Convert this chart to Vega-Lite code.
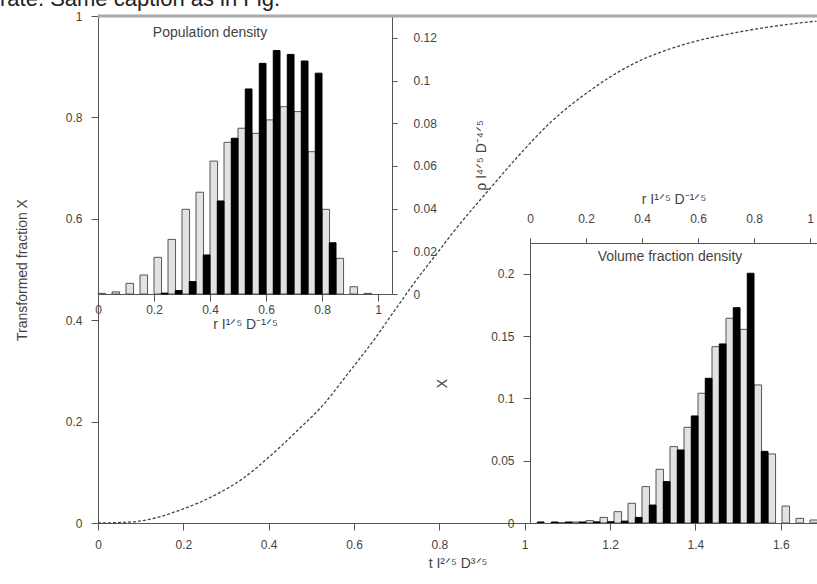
{
  "$schema": "https://vega.github.io/schema/vega-lite/v6.json",
  "width": 719,
  "height": 507,
  "autosize": {"type": "none"},
  "padding": {"left": 98, "top": 16, "right": 0, "bottom": 61},
  "config": {
    "view": {"stroke": null},
    "font": "Liberation Sans",
    "axis": {"labelFont": "Liberation Sans", "titleFont": "Liberation Sans", "labelColor": "#444", "titleColor": "#444", "domainColor": "#555", "tickColor": "#555", "grid": false, "titleFontWeight": "normal", "labelFontSize": 12, "titleFontSize": 14, "labelFlush": false, "labelOverlap": false}
  },
  "datasets": {
    "curve": [
      {"t": 0, "X": 0}, {"t": 0.05, "X": 0.001}, {"t": 0.10, "X": 0.004}, {"t": 0.194, "X": 0.026},
      {"t": 0.274, "X": 0.055}, {"t": 0.335, "X": 0.085}, {"t": 0.398, "X": 0.128}, {"t": 0.468, "X": 0.183},
      {"t": 0.532, "X": 0.237}, {"t": 0.574, "X": 0.282}, {"t": 0.65, "X": 0.365}, {"t": 0.70, "X": 0.425},
      {"t": 0.738, "X": 0.47}, {"t": 0.80, "X": 0.538}, {"t": 0.831, "X": 0.572}, {"t": 0.918, "X": 0.659},
      {"t": 0.981, "X": 0.72}, {"t": 1.059, "X": 0.789}, {"t": 1.145, "X": 0.848}, {"t": 1.253, "X": 0.905},
      {"t": 1.370, "X": 0.943}, {"t": 1.487, "X": 0.966}, {"t": 1.604, "X": 0.982}, {"t": 1.684, "X": 0.99}
    ],
    "pop": [
      {"s": "w", "lo": 0.000, "hi": 0.027, "v": 0.0003}, {"s": "w", "lo": 0.050, "hi": 0.077, "v": 0.001},
      {"s": "w", "lo": 0.100, "hi": 0.127, "v": 0.005}, {"s": "w", "lo": 0.150, "hi": 0.177, "v": 0.0089},
      {"s": "w", "lo": 0.200, "hi": 0.227, "v": 0.0172}, {"s": "w", "lo": 0.250, "hi": 0.277, "v": 0.0256},
      {"s": "w", "lo": 0.300, "hi": 0.327, "v": 0.0397}, {"s": "w", "lo": 0.350, "hi": 0.377, "v": 0.0477},
      {"s": "w", "lo": 0.400, "hi": 0.427, "v": 0.0623}, {"s": "w", "lo": 0.450, "hi": 0.477, "v": 0.0711},
      {"s": "w", "lo": 0.500, "hi": 0.527, "v": 0.0777}, {"s": "w", "lo": 0.550, "hi": 0.577, "v": 0.0753},
      {"s": "w", "lo": 0.600, "hi": 0.627, "v": 0.0816}, {"s": "w", "lo": 0.650, "hi": 0.677, "v": 0.0878},
      {"s": "w", "lo": 0.700, "hi": 0.727, "v": 0.0855}, {"s": "w", "lo": 0.750, "hi": 0.777, "v": 0.0667},
      {"s": "w", "lo": 0.800, "hi": 0.827, "v": 0.0397}, {"s": "w", "lo": 0.850, "hi": 0.877, "v": 0.0167},
      {"s": "w", "lo": 0.900, "hi": 0.927, "v": 0.0034}, {"s": "w", "lo": 0.950, "hi": 0.977, "v": 0.0003},
      {"s": "b", "lo": 0.226, "hi": 0.250, "v": 0.0004}, {"s": "b", "lo": 0.276, "hi": 0.300, "v": 0.0016},
      {"s": "b", "lo": 0.326, "hi": 0.350, "v": 0.0058}, {"s": "b", "lo": 0.376, "hi": 0.400, "v": 0.0183},
      {"s": "b", "lo": 0.426, "hi": 0.450, "v": 0.0436}, {"s": "b", "lo": 0.476, "hi": 0.500, "v": 0.073},
      {"s": "b", "lo": 0.526, "hi": 0.550, "v": 0.0961}, {"s": "b", "lo": 0.576, "hi": 0.600, "v": 0.1081},
      {"s": "b", "lo": 0.626, "hi": 0.650, "v": 0.1141}, {"s": "b", "lo": 0.676, "hi": 0.700, "v": 0.1123},
      {"s": "b", "lo": 0.726, "hi": 0.750, "v": 0.1092}, {"s": "b", "lo": 0.776, "hi": 0.800, "v": 0.1035},
      {"s": "b", "lo": 0.826, "hi": 0.850, "v": 0.024}
    ],
    "vol": [
      {"s": "w", "lo": 0.100, "hi": 0.127, "v": 0.0003}, {"s": "w", "lo": 0.150, "hi": 0.177, "v": 0.0008},
      {"s": "w", "lo": 0.200, "hi": 0.227, "v": 0.0019}, {"s": "w", "lo": 0.250, "hi": 0.277, "v": 0.0045},
      {"s": "w", "lo": 0.300, "hi": 0.327, "v": 0.0091}, {"s": "w", "lo": 0.350, "hi": 0.377, "v": 0.0158},
      {"s": "w", "lo": 0.400, "hi": 0.427, "v": 0.0292}, {"s": "w", "lo": 0.450, "hi": 0.477, "v": 0.0431},
      {"s": "w", "lo": 0.500, "hi": 0.527, "v": 0.0613}, {"s": "w", "lo": 0.550, "hi": 0.577, "v": 0.0768},
      {"s": "w", "lo": 0.600, "hi": 0.627, "v": 0.1041}, {"s": "w", "lo": 0.650, "hi": 0.677, "v": 0.1415},
      {"s": "w", "lo": 0.700, "hi": 0.727, "v": 0.1643}, {"s": "w", "lo": 0.750, "hi": 0.777, "v": 0.1554},
      {"s": "w", "lo": 0.800, "hi": 0.827, "v": 0.1108}, {"s": "w", "lo": 0.850, "hi": 0.877, "v": 0.0554},
      {"s": "w", "lo": 0.900, "hi": 0.927, "v": 0.0136}, {"s": "w", "lo": 0.950, "hi": 0.977, "v": 0.0037},
      {"s": "w", "lo": 1.000, "hi": 1.027, "v": 0.0024},
      {"s": "b", "lo": 0.026, "hi": 0.050, "v": 0.0008}, {"s": "b", "lo": 0.076, "hi": 0.100, "v": 0.0008},
      {"s": "b", "lo": 0.126, "hi": 0.150, "v": 0.0008}, {"s": "b", "lo": 0.176, "hi": 0.200, "v": 0.0008},
      {"s": "b", "lo": 0.226, "hi": 0.250, "v": 0.0009}, {"s": "b", "lo": 0.276, "hi": 0.300, "v": 0.001},
      {"s": "b", "lo": 0.326, "hi": 0.350, "v": 0.0015}, {"s": "b", "lo": 0.376, "hi": 0.400, "v": 0.0045},
      {"s": "b", "lo": 0.426, "hi": 0.450, "v": 0.0144}, {"s": "b", "lo": 0.476, "hi": 0.500, "v": 0.0332},
      {"s": "b", "lo": 0.526, "hi": 0.550, "v": 0.0586}, {"s": "b", "lo": 0.576, "hi": 0.600, "v": 0.0859},
      {"s": "b", "lo": 0.626, "hi": 0.650, "v": 0.1161}, {"s": "b", "lo": 0.676, "hi": 0.700, "v": 0.1437},
      {"s": "b", "lo": 0.726, "hi": 0.750, "v": 0.1728}, {"s": "b", "lo": 0.776, "hi": 0.800, "v": 0.2004},
      {"s": "b", "lo": 0.826, "hi": 0.850, "v": 0.0575}
    ],
    "popTitle": [{"lo": 0.4, "v": 0.1224, "label": "Population density"}],
    "volTitle": [{"lo": 0.5, "v": 0.2135, "label": "Volume fraction density"}],
    "top": [{"X": 1}],
    "caption": [{"t": 0, "X": 1.0195, "cap": "rate. Same caption as in Fig."}]
  },
  "layer": [
    {
      "layer": [
        {
          "data": {"name": "top"},
          "mark": {"type": "rule", "stroke": "#aaaaaa", "strokeWidth": 3},
          "encoding": {"y": {"field": "X", "type": "quantitative"}}
        },
        {
          "data": {"name": "curve"},
          "mark": {"type": "line", "stroke": "#444", "strokeDash": [3, 2], "strokeWidth": 1.3, "interpolate": "monotone"},
          "encoding": {
            "x": {"field": "t", "type": "quantitative", "scale": {"domain": [0, 1.685], "range": [0, 719], "nice": false, "zero": false},
                  "axis": {"orient": "bottom", "values": [0, 0.2, 0.4, 0.6, 0.8, 1, 1.2, 1.4, 1.6], "format": "~g", "title": "t I²ᐟ⁵ D³ᐟ⁵", "tickSize": 7, "labelPadding": 9, "titlePadding": 6}},
            "y": {"field": "X", "type": "quantitative"}
          }
        },
        {
          "data": {"name": "caption"},
          "mark": {"type": "text", "align": "left", "baseline": "alphabetic", "fontSize": 22, "dx": -98, "color": "#222", "font": "Liberation Sans"},
          "encoding": {
            "x": {"field": "t", "type": "quantitative"},
            "y": {"field": "X", "type": "quantitative"},
            "text": {"field": "cap"}
          }
        }
      ],
      "encoding": {
        "y": {"field": "X", "type": "quantitative", "scale": {"domain": [0, 1], "range": [507, 0], "nice": false},
              "axis": {"orient": "left", "values": [0, 0.2, 0.4, 0.6, 0.8, 1], "format": "~g", "title": "Transformed fraction X", "tickSize": 7, "labelPadding": 9, "titlePadding": 36}}
      }
    },
    {
      "layer": [
        {
          "data": {"name": "pop"},
          "mark": {"type": "bar", "strokeWidth": 1},
          "encoding": {
            "x2": {"field": "hi"},
            "y2": {"datum": 0},
            "fill": {"field": "s", "type": "nominal", "scale": {"domain": ["w", "b"], "range": ["#e2e2e2", "#000000"]}, "legend": null},
            "stroke": {"field": "s", "type": "nominal", "scale": {"domain": ["w", "b"], "range": ["#555555", "#000000"]}, "legend": null}
          }
        },
        {
          "data": {"name": "popTitle"},
          "mark": {"type": "text", "fontSize": 14, "color": "#444", "font": "Liberation Sans"},
          "encoding": {"text": {"field": "label"}}
        }
      ],
      "encoding": {
        "x": {"field": "lo", "type": "quantitative", "scale": {"domain": [0, 1.05], "range": [0, 294], "nice": false, "zero": false},
              "axis": {"orient": "bottom", "offset": -229, "values": [0, 0.2, 0.4, 0.6, 0.8, 1], "format": "~g", "title": "r I¹ᐟ⁵ D⁻¹ᐟ⁵", "tickSize": 7, "labelPadding": 3, "titlePadding": 2}},
        "y": {"field": "v", "type": "quantitative", "scale": {"domain": [0, 0.1303], "range": [278, 0], "nice": false},
              "axis": {"orient": "right", "offset": -425, "values": [0, 0.02, 0.04, 0.06, 0.08, 0.1, 0.12], "format": "~g", "title": "ρ I⁴ᐟ⁵ D⁻⁴ᐟ⁵", "titleAngle": -90, "titleBaseline": "top", "tickSize": 5, "labelPadding": 16, "titlePadding": 38}}
      }
    },
    {
      "layer": [
        {
          "data": {"name": "vol"},
          "mark": {"type": "bar", "strokeWidth": 1, "clip": true},
          "encoding": {
            "x2": {"field": "hi"},
            "y2": {"datum": 0},
            "fill": {"field": "s", "type": "nominal", "scale": {"domain": ["w", "b"], "range": ["#e2e2e2", "#000000"]}, "legend": null},
            "stroke": {"field": "s", "type": "nominal", "scale": {"domain": ["w", "b"], "range": ["#555555", "#000000"]}, "legend": null}
          }
        },
        {
          "data": {"name": "volTitle"},
          "mark": {"type": "text", "fontSize": 14, "color": "#444", "font": "Liberation Sans"},
          "encoding": {"text": {"field": "label"}}
        }
      ],
      "encoding": {
        "x": {"field": "lo", "type": "quantitative", "scale": {"domain": [0, 1.025], "range": [432, 719], "nice": false, "zero": false},
              "axis": {"orient": "top", "offset": -227, "values": [0, 0.2, 0.4, 0.6, 0.8, 1], "format": "~g", "title": "r I¹ᐟ⁵ D⁻¹ᐟ⁵", "tickSize": 5, "labelPadding": 13, "titlePadding": 6}},
        "y": {"field": "v", "type": "quantitative", "scale": {"domain": [0, 0.2247], "range": [507, 227], "nice": false},
              "axis": {"orient": "left", "offset": -432, "values": [0, 0.05, 0.1, 0.15, 0.2], "format": "~g", "title": "X", "tickSize": 7, "labelPadding": 9, "titlePadding": 41}}
      }
    }
  ],
  "resolve": {"scale": {"x": "independent", "y": "independent"}, "axis": {"x": "independent", "y": "independent"}}
}
